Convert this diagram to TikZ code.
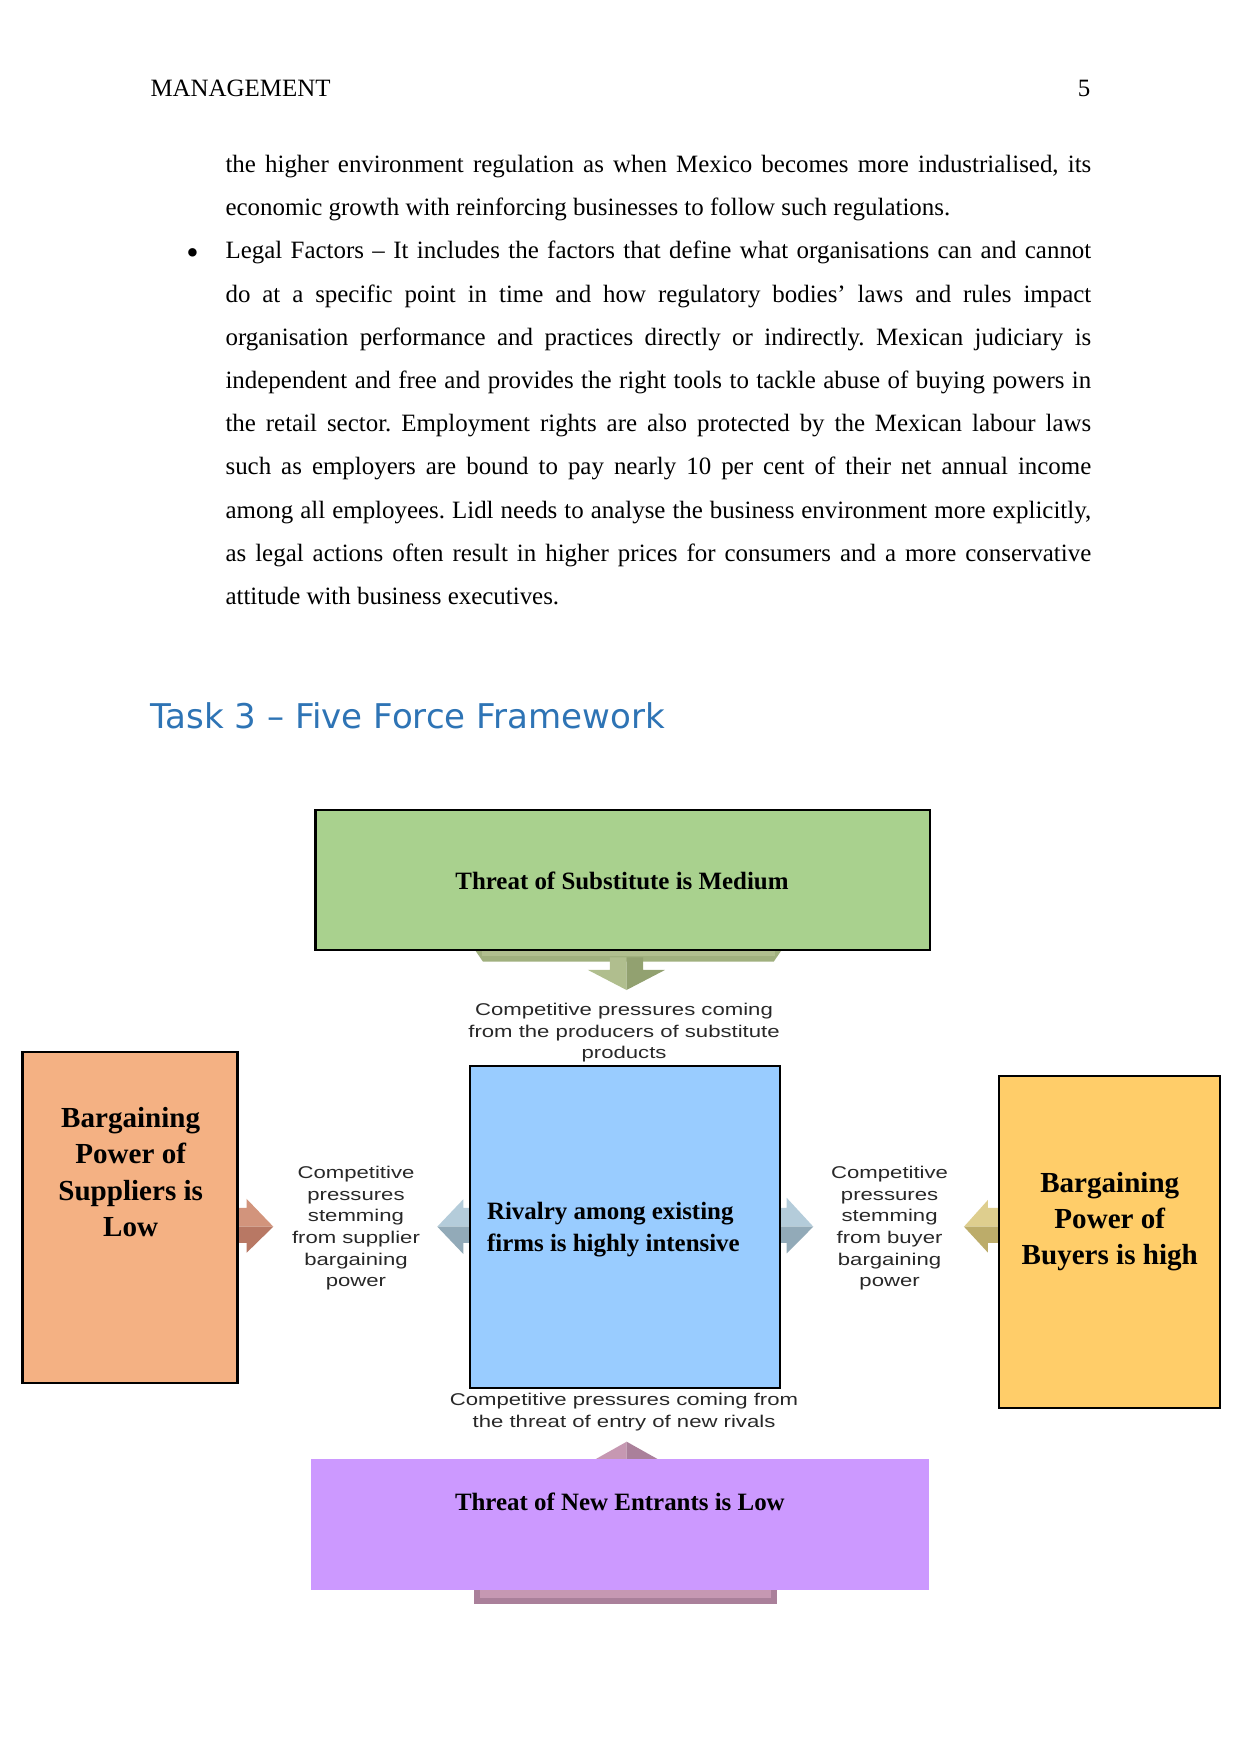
\documentclass[tikz,border=0pt]{standalone}
\usepackage{fontspec}
\setmainfont{Liberation Serif}
\newfontfamily\headfont{DejaVu Sans}
\newfontfamily\widesans[FakeStretch=1.3]{Liberation Sans}
\usepackage{tikz}
\usetikzlibrary{positioning, calc, backgrounds}
\definecolor{FFHead}{RGB}{46,116,181}
\definecolor{FFLabel}{RGB}{40,40,40}
\definecolor{FFGreen}{RGB}{169,209,142}
\definecolor{FFBlue}{RGB}{153,204,255}
\definecolor{FFOrange}{RGB}{244,177,131}
\definecolor{FFGold}{RGB}{255,205,105}
\definecolor{FFPurple}{RGB}{204,153,255}
\definecolor{FFGreenB}{RGB}{160,176,126}
\definecolor{FFGreenL}{RGB}{176,190,142}
\definecolor{FFGreenD}{RGB}{146,161,112}
\definecolor{FFBrownL}{RGB}{210,148,124}
\definecolor{FFBrownD}{RGB}{184,120,100}
\definecolor{FFSteelL}{RGB}{180,204,218}
\definecolor{FFSteelD}{RGB}{146,170,184}
\definecolor{FFOliveL}{RGB}{222,206,142}
\definecolor{FFOliveD}{RGB}{188,172,106}
\definecolor{FFMauveL}{RGB}{198,152,178}
\definecolor{FFMauveD}{RGB}{170,128,154}
\frenchspacing

\begin{document}
\begin{tikzpicture}[
      bodyline/.style={anchor=base west, inner sep=0pt, font=\fontsize{12}{14}\selectfont},
      box/.style={rectangle, draw=black, line width=1.3pt, inner sep=0pt},
      bigtxt/.style={align=center, inner sep=0pt, font=\fontsize{14}{17.5}\selectfont\bfseries},
      midtxt/.style={align=center, inner sep=0pt, font=\fontsize{12}{14}\selectfont\bfseries},
      lbl/.style={align=center, inner sep=0pt, text=FFLabel,
                  font=\widesans\fontsize{8.2}{10.4}\selectfont}
    ]
    \useasboundingbox (0,0) rectangle (21,-29.682);

    %--- Page header and text ---
    \node[bodyline] (runhead) at (2.54,-1.636) {MANAGEMENT};
    \node[bodyline, anchor=base east] (pageno) at (18.46,-1.636) {5};
    \foreach \n/\txt in {
      1/{the higher environment regulation as when Mexico becomes more industrialised, its},
      3/{Legal Factors – It includes the factors that define what organisations can and cannot},
      4/{do at a specific point in time and how regulatory bodies’ laws and rules impact},
      5/{organisation performance and practices directly or indirectly. Mexican judiciary is},
      6/{independent and free and provides the right tools to tackle abuse of buying powers in},
      7/{the retail sector. Employment rights are also protected by the Mexican labour laws},
      8/{such as employers are bound to pay nearly 10 per cent of their net annual income},
      9/{among all employees. Lidl needs to analyse the business environment more explicitly,},
      10/{as legal actions often result in higher prices for consumers and a more conservative}} {
      \node[bodyline] (line\n) at (3.81,{-2.92-(\n-1)*0.731})
            {\makebox[14.65cm][s]{\txt}};
    }
    \node[bodyline] (line2) at (3.81,-3.651)
          {economic growth with reinforcing businesses to follow such regulations.};
    \node[bodyline] (line11) at (3.81,-10.23) {attitude with business executives.};
    \node[bodyline, anchor=base, font=\fontsize{17}{17}\selectfont] (bullet)
          at (3.257,-4.47) {•};

    \node[anchor=base west, inner sep=0pt, text=FFHead,
          font=\headfont\fontsize{16.4}{19}\selectfont] (task) at (2.54,-12.32)
          {Task 3 – Five Force Framework};

    %--- Five forces ---
    \node[box, fill=FFGreen, minimum width=10.396cm, minimum height=2.369cm]
          (subst) at (10.539,-14.892) {};
    \node[midtxt] (substtxt) at (10.526,-14.908) {Threat of Substitute is Medium};

    \node[box, fill=FFBlue, minimum width=5.246cm, minimum height=5.449cm]
          (rival) at (10.576,-20.764) {};
    \node[midtxt, align=left, anchor=west, font=\fontsize{12}{15.6}\selectfont\bfseries]
          (rivaltxt) at (8.235,-20.81) {Rivalry among existing\\firms is highly intensive};

    \node[box, fill=FFOrange, minimum width=3.64cm, minimum height=5.601cm]
          (supp) at (2.199,-20.603) {};
    \node[bigtxt] (supptxt) at (2.212,-19.834) {Bargaining\\Power of\\Suppliers is\\Low};

    \node[box, fill=FFGold, minimum width=3.74cm, minimum height=5.618cm]
          (buyer) at (18.775,-21.017) {};
    \node[bigtxt] (buyertxt) at (18.78,-20.675) {Bargaining\\Power of\\Buyers is high};

    \node[rectangle, fill=FFPurple, minimum width=10.458cm, minimum height=2.217cm]
          (entr) at (10.492,-25.798) {};
    \node[midtxt] (entrtxt) at (10.49,-25.417) {Threat of New Entrants is Low};

    % Pressure labels
    \node[lbl] (substlbl) at (10.56,-17.48)
          {Competitive pressures coming\\from the producers of substitute\\products};
    \node[lbl] (entrlbl) at (10.56,-23.892)
          {Competitive pressures coming from\\the threat of entry of new rivals};
    \node[lbl] (supplbl) at (6.024,-20.786)
          {Competitive\\pressures\\stemming\\from supplier\\bargaining\\power};
    \node[lbl] (buyerlbl) at (15.054,-20.786)
          {Competitive\\pressures\\stemming\\from buyer\\bargaining\\power};

    % Block arrows behind the boxes
    \begin{scope}[on background layer]
      \fill[white] (0,0) rectangle (21,-29.682);
      % substitutes -> rivalry
      \fill[FFGreenB] (8.038,-16.0) -- (13.228,-16.0) -- (13.228,-16.076)
            -- (13.093,-16.274) -- (8.173,-16.274) -- (8.038,-16.076) -- cycle;
      \fill[FFGreenL] (8.15,-16.0) rectangle (13.12,-16.17);
      \fill[FFGreenL] (10.322,-16.2) -- (10.602,-16.2) -- (10.602,-16.753)
            -- (9.950,-16.414) -- (10.322,-16.414) -- cycle;
      \fill[FFGreenD] (10.882,-16.2) -- (10.602,-16.2) -- (10.602,-16.753)
            -- (11.253,-16.414) -- (10.882,-16.414) -- cycle;
      % new entrants -> rivalry
      \fill[FFMauveL] (10.605,-24.397) -- (10.605,-24.95) -- (9.62,-24.95) -- cycle;
      \fill[FFMauveD] (10.605,-24.397) -- (10.605,-24.95) -- (11.59,-24.95) -- cycle;
      \fill[FFMauveD] (8.021,-26.8) rectangle (13.149,-27.143);
      \fill[FFMauveL] (8.12,-26.8) rectangle (13.05,-27.05);
      % suppliers -> label
      \fill[FFBrownL] (3.95,-20.442) -- (4.175,-20.442) -- (4.175,-20.289)
            -- (4.625,-20.758) -- (3.95,-20.758) -- cycle;
      \fill[FFBrownD] (3.95,-20.758) -- (4.625,-20.758) -- (4.175,-21.198)
            -- (4.175,-21.034) -- (3.95,-21.034) -- cycle;
      % rivalry -> supplier label
      \fill[FFSteelL] (8.0,-20.442) -- (7.84,-20.442) -- (7.84,-20.295)
            -- (7.4,-20.758) -- (8.0,-20.758) -- cycle;
      \fill[FFSteelD] (8.0,-20.758) -- (7.4,-20.758) -- (7.84,-21.22)
            -- (7.84,-21.034) -- (8.0,-21.034) -- cycle;
      % rivalry -> buyer label
      \fill[FFSteelL] (13.15,-20.442) -- (13.313,-20.442) -- (13.313,-20.27)
            -- (13.763,-20.758) -- (13.15,-20.758) -- cycle;
      \fill[FFSteelD] (13.15,-20.758) -- (13.763,-20.758) -- (13.313,-21.21)
            -- (13.313,-21.034) -- (13.15,-21.034) -- cycle;
      % buyers -> label
      \fill[FFOliveL] (16.95,-20.442) -- (16.719,-20.442) -- (16.719,-20.305)
            -- (16.313,-20.758) -- (16.95,-20.758) -- cycle;
      \fill[FFOliveD] (16.95,-20.758) -- (16.313,-20.758) -- (16.719,-21.198)
            -- (16.719,-21.034) -- (16.95,-21.034) -- cycle;
    \end{scope}
\end{tikzpicture}
\end{document}
